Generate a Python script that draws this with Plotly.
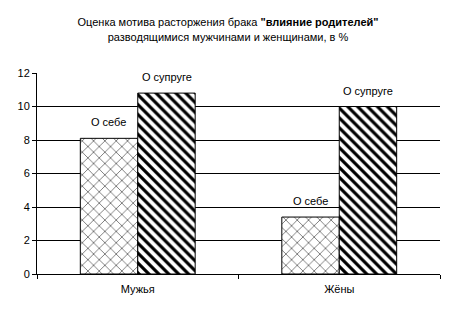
import plotly.graph_objects as go

categories = ["Мужья", "Жёны"]
series_names = ["О себе", "О супруге"]
self_values = [8.1, 3.4]
spouse_values = [10.8, 10.0]
y_ticks = [0, 2, 4, 6, 8, 10, 12]

FONT = "Liberation Sans, Arial, sans-serif"

fig = go.Figure()
fig.add_trace(go.Bar(
    x=categories, y=self_values, name=series_names[0],
    marker=dict(color="white", line=dict(color="black", width=1),
                pattern=dict(shape="x", fgcolor="black", bgcolor="white",
                             size=8, solidity=0.12, fillmode="replace")),
))
fig.add_trace(go.Bar(
    x=categories, y=spouse_values, name=series_names[1],
    marker=dict(color="white", line=dict(color="black", width=1),
                pattern=dict(shape="\\", fgcolor="black", bgcolor="white",
                             size=7, solidity=0.45, fillmode="replace")),
))

annotations = []
for i, cat in enumerate(categories):
    for j, (vals, name) in enumerate([(self_values, series_names[0]), (spouse_values, series_names[1])]):
        annotations.append(dict(
            x=cat, y=vals[i], xref="x", yref="y", text=name, showarrow=False,
            xshift=(-29 if j == 0 else 29), yshift=8, yanchor="bottom",
            font=dict(family=FONT, size=11, color="black"),
        ))

fig.update_layout(
    width=456, height=317,
    margin=dict(l=37, r=16, t=73, b=43),
    paper_bgcolor="white", plot_bgcolor="white",
    showlegend=False,
    barmode="group", bargap=0.43, bargroupgap=0,
    font=dict(family=FONT, size=11, color="black"),
    title=dict(
        text="Оценка мотива расторжения брака <b>\"влияние родителей\"</b><br>разводящимися мужчинами и женщинами, в %",
        x=0.5, xanchor="center", y=0.917, yanchor="top",
        font=dict(family=FONT, size=11, color="black"),
    ),
    annotations=annotations,
)
fig.update_yaxes(
    range=[0, 12], tickvals=y_ticks, showgrid=True, gridcolor="black", gridwidth=1,
    showline=True, linecolor="black", linewidth=1, ticks="outside", ticklen=4,
    tickcolor="black", zeroline=False, tickfont=dict(family=FONT, size=11, color="black"),
)
fig.update_xaxes(
    showline=True, linecolor="black", linewidth=1, ticks="outside", ticklen=4,
    tickcolor="black", tickson="boundaries", showgrid=False, ticklabelstandoff=5,
    tickfont=dict(family=FONT, size=11, color="black"),
)

fig.write_html("out.html")
